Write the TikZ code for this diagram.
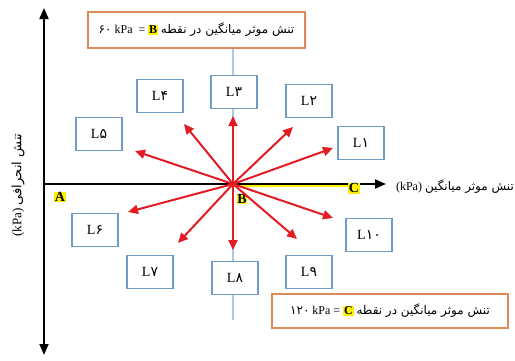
\documentclass[tikz,border=0pt]{standalone}
\usepackage{fontspec}
\setmainfont{Liberation Serif}
\newfontfamily\arabicfont[Script=Arabic]{DejaVu Sans}
\TeXXeTstate=1
\usetikzlibrary{arrows.meta}
\definecolor{lblue}{HTML}{6F9CC6}
\definecolor{lline}{HTML}{A9C8E6}
\definecolor{orng}{HTML}{DD8A55}
\definecolor{arred}{HTML}{E31B23}
\definecolor{hly}{HTML}{FFF200}
\newcommand\hlt[1]{{\setlength{\fboxsep}{0.8pt}\colorbox{hly}{#1}}}
\begin{document}
\begin{tikzpicture}[x=1pt,y=-1pt,
  lbox/.style={draw=lblue, fill=white, line width=1.2pt, minimum width=46pt, minimum height=33pt, inner sep=0pt, font=\fontsize{14}{14}\selectfont},
  obox/.style={draw=orng, fill=white, line width=1.4pt, inner sep=0pt, font=\fontsize{12}{12}\selectfont},
  redarrow/.style={draw=arred, line width=2pt, -{Triangle[length=10pt,width=9pt]}},
  axis/.style={draw=black, line width=1.8pt},
  pt/.style={font=\bfseries\fontsize{14}{14}\selectfont, inner sep=0pt}]
\useasboundingbox (0,0) rectangle (515,360);
% light vertical line
\coordinate (vtop) at (233,48);
\coordinate (vbot) at (233,320);
\draw[lline, line width=1.2pt] (vtop) -- (vbot);
% axes
\coordinate (ytop) at (44,8);
\coordinate (ybot) at (44,355);
\coordinate (xl) at (44,184);
\coordinate (xr) at (386,184);
\coordinate (B) at (233,184);
\coordinate (Cy) at (352,186);
\draw[hly, line width=1.5pt] ([yshift=-2pt]B) -- (Cy);
\draw[axis, {Triangle[length=11pt,width=9pt]}-{Triangle[length=11pt,width=9pt]}] (ytop) -- (ybot);
\draw[axis, -{Triangle[length=11pt,width=9pt]}] (xl) -- (xr);
% point labels
\node[pt] (A) at (60,197) {\hlt{A}};
\node[pt] (Bl) at (242,199) {\hlt{B}};
\node[pt] (C) at (354,188) {\hlt{C}};
% L boxes
\node[lbox] (L1) at (361,143) {L{\arabicfont ۱}};
\node[lbox] (L2) at (309,101) {L{\arabicfont ۲}};
\node[lbox] (L3) at (234,92) {L{\arabicfont ۳}};
\node[lbox] (L4) at (160,96) {L{\arabicfont ۴}};
\node[lbox] (L5) at (99,134) {L{\arabicfont ۵}};
\node[lbox] (L6) at (95,230) {L{\arabicfont ۶}};
\node[lbox] (L7) at (150,272) {L{\arabicfont ۷}};
\node[lbox] (L8) at (235,278) {L{\arabicfont ۸}};
\node[lbox] (L9) at (309,272) {L{\arabicfont ۹}};
\node[lbox] (L10) at (369,235) {L{\arabicfont ۱۰}};
% arrow tips
\coordinate (t1) at (333,148);
\coordinate (t2) at (293,127);
\coordinate (t3) at (233,116);
\coordinate (t4) at (184,124);
\coordinate (t5) at (135,151);
\coordinate (t6) at (128,212);
\coordinate (t7) at (178,243);
\coordinate (t8) at (233,250);
\coordinate (t9) at (297,239);
\coordinate (t10) at (333,218);
\foreach \i in {1,...,10} \draw[redarrow] (B) -- (t\i);
% orange boxes
\node[obox, minimum width=217pt, minimum height=36pt] (top) at (196.5,30)
  {{\arabicfont ۶۰} kPa \ = \hlt{\bfseries B} {\arabicfont\beginR تنش موثر میانگین در نقطه\endR}};
\node[obox, minimum width=236pt, minimum height=34pt] (bot) at (390,311)
  {{\arabicfont ۱۲۰} kPa = \hlt{\bfseries C} {\arabicfont\beginR تنش موثر میانگین در نقطه\endR}};
% axis labels
\node[font=\fontsize{12}{12}\selectfont, inner sep=0pt] (xlab) at (455,187)
  {(kPa) {\arabicfont\beginR تنش موثر میانگین\endR}};
\node[font=\fontsize{13}{13}\selectfont, inner sep=0pt, rotate=90] (ylab) at (18,185)
  {(kPa) {\arabicfont\beginR تنش انحرافی\endR}};
\end{tikzpicture}
\end{document}
